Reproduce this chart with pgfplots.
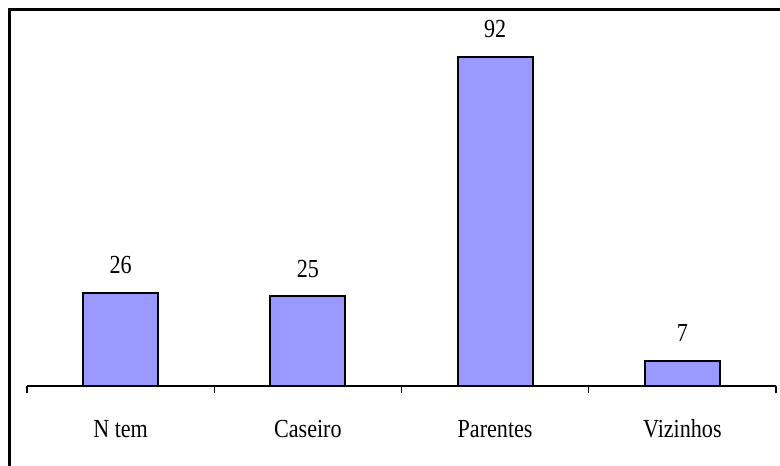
\documentclass[border=0pt]{standalone}
\usepackage{fontspec}
\setmainfont{Liberation Serif}[FakeStretch=0.85]
\usepackage{pgfplots}
\pgfplotsset{compat=1.18}
\definecolor{barblue}{HTML}{9999FF}
\newcommand{\chartfont}{\fontsize{26}{30}\selectfont}
\begin{document}
\begin{tikzpicture}
\useasboundingbox (0,0) rectangle (780pt,466pt);
% outer frame (top and left edges)
\draw[line width=2.5pt] (9.5pt,0pt) -- (9.5pt,456.5pt) -- (780pt,456.5pt);
\begin{axis}[
  at={(27pt,80pt)}, anchor=south west,
  scale only axis,
  width=749pt, height=358pt,
  xmin=-0.5, xmax=3.5, ymin=0, ymax=100,
  axis x line*=bottom, axis y line=none,
  axis line style={black, line width=1.2pt},
  % category boundaries
  xtick={-0.5,0.5,1.5,2.5,3.5},
  xticklabels={},
  xtick style={black, line width=1.2pt},
  tick align=outside,
  xtick pos=bottom,
  major tick length=7pt,
  % category names
  extra x ticks={0,1,2,3},
  extra x tick labels={N tem, Caseiro, Parentes, Vizinhos},
  extra x tick style={xtick style={draw=none}},
  ytick=\empty,
  xticklabel style={font=\chartfont, anchor=base, inner sep=0pt, yshift=-44pt},
  ybar, bar width=75pt,
  nodes near coords,
  /pgf/number format/assume math mode=true,
  every node near coord/.append style={font=\chartfont, anchor=base, inner sep=0pt, yshift=19pt, black},
  clip=false,
]
\addplot[fill=barblue, draw=black, line width=2pt] coordinates {(0,26) (1,25) (2,92) (3,7)};
\end{axis}
\end{tikzpicture}
\end{document}
